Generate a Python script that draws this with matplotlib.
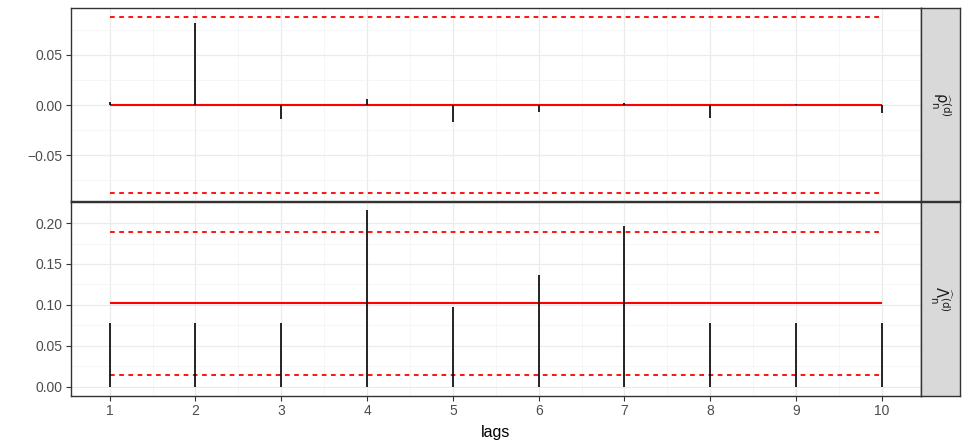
import numpy as np
import matplotlib
matplotlib.use("Agg")
import matplotlib.pyplot as plt
from matplotlib.ticker import MultipleLocator

# data
lags = np.arange(1, 11)
rho_vals = [0.003, 0.082, -0.0136, 0.006, -0.0166, -0.0073, 0.002, -0.013, 0.0005, -0.0076]
rho_center = 0.0
rho_lower = -0.0877
rho_upper = 0.0882

lam_vals = [0.078, 0.078, 0.078, 0.2155, 0.098, 0.137, 0.196, 0.078, 0.078, 0.078]
lam_center = 0.1018
lam_lower = 0.0147
lam_upper = 0.1895

strip_labels = [r"$\widehat{\mathrm{\rho}}^{(\mathrm{d})}_{\mathrm{n}}$",
                r"$\widehat{\Lambda}^{(\mathrm{d})}_{\mathrm{n}}$"]
x_label = "lags"

plt.rcParams["font.family"] = ["Liberation Sans", "DejaVu Sans"]
plt.rcParams["mathtext.fontset"] = "dejavusans"

fig = plt.figure(figsize=(9.69, 4.48), dpi=100)
W, H = 969, 448

def px_axes(x0, y0, x1, y1):
    return fig.add_axes([x0 / W, 1 - y1 / H, (x1 - x0) / W, (y1 - y0) / H])

ax_top = px_axes(71, 8, 920.5, 201.5)
ax_bot = px_axes(71, 201.5, 920.5, 395.7)
strip_top = px_axes(920.5, 8, 960, 201.5)
strip_bot = px_axes(920.5, 201.5, 960, 395.7)

def expand(lo, hi, frac=0.05):
    d = (hi - lo) * frac
    return lo - d, hi + d

panels = [
    (ax_top, rho_vals, rho_center, rho_lower, rho_upper, 0.05, 0.025),
    (ax_bot, lam_vals, lam_center, lam_lower, lam_upper, 0.05, 0.025),
]

for ax, vals, center, lower, upper, major, minor in panels:
    ax.set_facecolor("white")
    ax.hlines([lower, upper], lags.min(), lags.max(), color="#FF0000",
              lw=1.3, linestyles=(0, (2.6, 2.5)), zorder=3)
    ax.hlines(center, lags.min(), lags.max(), color="#FF0000", lw=1.5, zorder=3)
    ax.vlines(lags, 0, vals, color="black", lw=1.2, zorder=4)

    ymin = min(min(vals), lower, 0)
    ymax = max(max(vals), upper, 0)
    ax.set_ylim(*expand(ymin, ymax))
    ax.set_xlim(*expand(lags.min(), lags.max()))

    ax.xaxis.set_major_locator(MultipleLocator(1))
    ax.xaxis.set_minor_locator(MultipleLocator(0.5))
    ax.yaxis.set_major_locator(MultipleLocator(major))
    ax.yaxis.set_minor_locator(MultipleLocator(minor))
    ax.grid(which="major", color="#EBEBEB", lw=0.9, zorder=0)
    ax.grid(which="minor", color="#F3F3F3", lw=0.5, zorder=0)
    ax.set_axisbelow(True)

    for s in ax.spines.values():
        s.set_color("#333333")
        s.set_linewidth(1.0)
    ax.tick_params(axis="both", which="major", length=3.8, width=0.8,
                   color="#333333", labelcolor="#4D4D4D", labelsize=10, pad=2.5)
    ax.tick_params(axis="both", which="minor", length=0)
    ax.yaxis.set_major_formatter(plt.FuncFormatter(lambda v, p: f"{v:.2f}".replace("-", "\u2212")))

ax_top.tick_params(axis="x", which="both", length=0, labelbottom=False)
ax_bot.set_xticks(lags)
ax_bot.set_xlabel(x_label, fontsize=11.5, color="black", labelpad=5)

for sax, lab in zip([strip_top, strip_bot], strip_labels):
    sax.set_facecolor("#D9D9D9")
    sax.set_xticks([])
    sax.set_yticks([])
    for s in sax.spines.values():
        s.set_color("#333333")
        s.set_linewidth(1.0)
    sax.text(0.5, 0.5, lab, rotation=270, ha="center", va="center",
             fontsize=10.5, color="#1A1A1A", transform=sax.transAxes)

fig.savefig("out.png", dpi=100)
